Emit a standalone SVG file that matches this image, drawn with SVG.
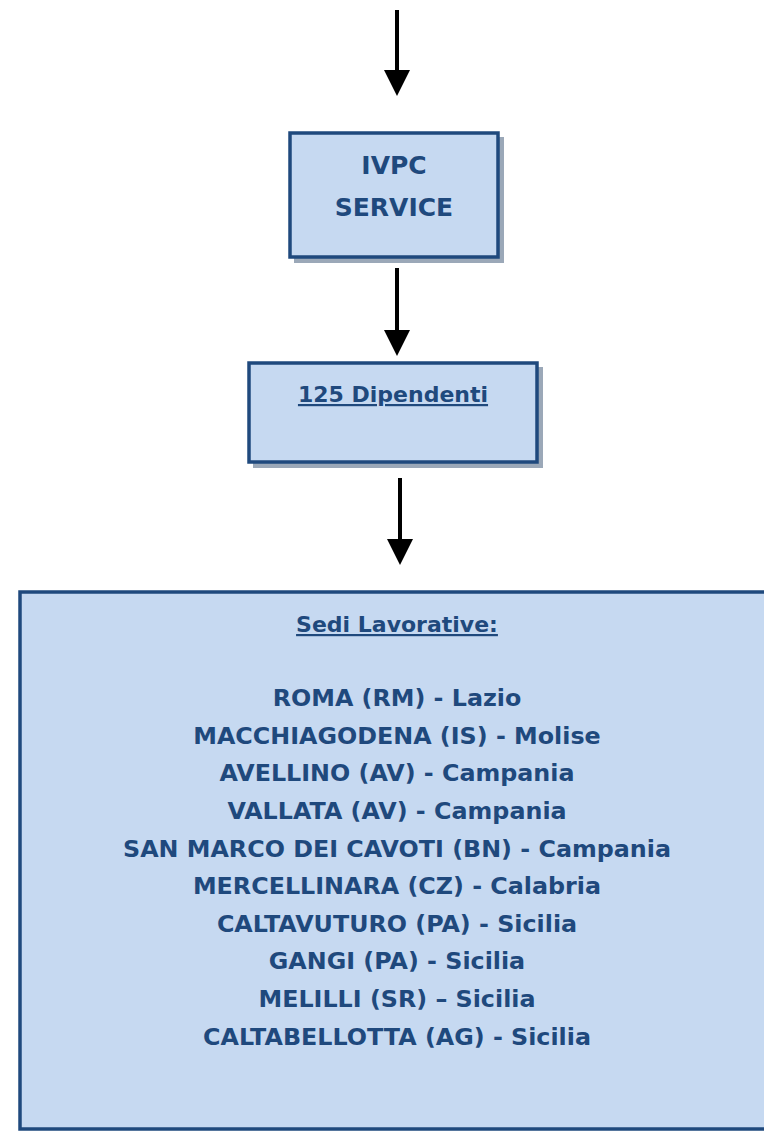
<svg xmlns="http://www.w3.org/2000/svg" width="764" height="1131" viewBox="0 0 764 1131">
<style>
.box{fill:#C6D9F1;stroke:#1F497D;stroke-width:3.5}
.shadow{fill:#9BA8B8}
.t{font-family:"DejaVu Sans","Liberation Sans",sans-serif;font-weight:bold;fill:#1F497D;text-anchor:middle}
.big{font-size:25px}
.mid{font-size:22px}
.lst{font-size:23.8px}
.ul{text-decoration:underline}
.conn line{stroke:#000;stroke-width:4}
.conn path{fill:#000}
</style>
<g id="connectors" class="conn">
<line x1="397" y1="10" x2="397" y2="70"/>
<path d="M384,70 L410,70 L397,96 Z"/>
<line x1="397" y1="268" x2="397" y2="330"/>
<path d="M384,330 L410,330 L397,356 Z"/>
<line x1="400" y1="478" x2="400" y2="539"/>
<path d="M387,539 L413,539 L400,565 Z"/>
</g>
<g id="node-ivpc">
<rect class="shadow" x="294" y="137" width="210" height="126"/>
<rect class="box" x="290" y="133" width="208" height="124"/>
<text class="t big" x="394" y="174">IVPC</text>
<text class="t big" x="394" y="216">SERVICE</text>
</g>
<g id="node-dipendenti">
<rect class="shadow" x="253" y="367" width="290" height="101"/>
<rect class="box" x="249" y="363" width="288" height="99"/>
<text class="t mid ul" x="393" y="402">125 Dipendenti</text>
</g>
<g id="node-sedi">
<rect class="box" x="20" y="592" width="760" height="537"/>
<text class="t mid ul" x="397" y="632">Sedi Lavorative:</text>
<text class="t lst" x="397" y="706">ROMA (RM) - Lazio</text>
<text class="t lst" x="397" y="744">MACCHIAGODENA (IS) - Molise</text>
<text class="t lst" x="397" y="781">AVELLINO (AV) - Campania</text>
<text class="t lst" x="397" y="819">VALLATA (AV) - Campania</text>
<text class="t lst" x="397" y="857">SAN MARCO DEI CAVOTI (BN) - Campania</text>
<text class="t lst" x="397" y="894">MERCELLINARA (CZ) - Calabria</text>
<text class="t lst" x="397" y="932">CALTAVUTURO (PA) - Sicilia</text>
<text class="t lst" x="397" y="969">GANGI (PA) - Sicilia</text>
<text class="t lst" x="397" y="1007">MELILLI (SR) – Sicilia</text>
<text class="t lst" x="397" y="1045">CALTABELLOTTA (AG) - Sicilia</text>
</g>
</svg>
